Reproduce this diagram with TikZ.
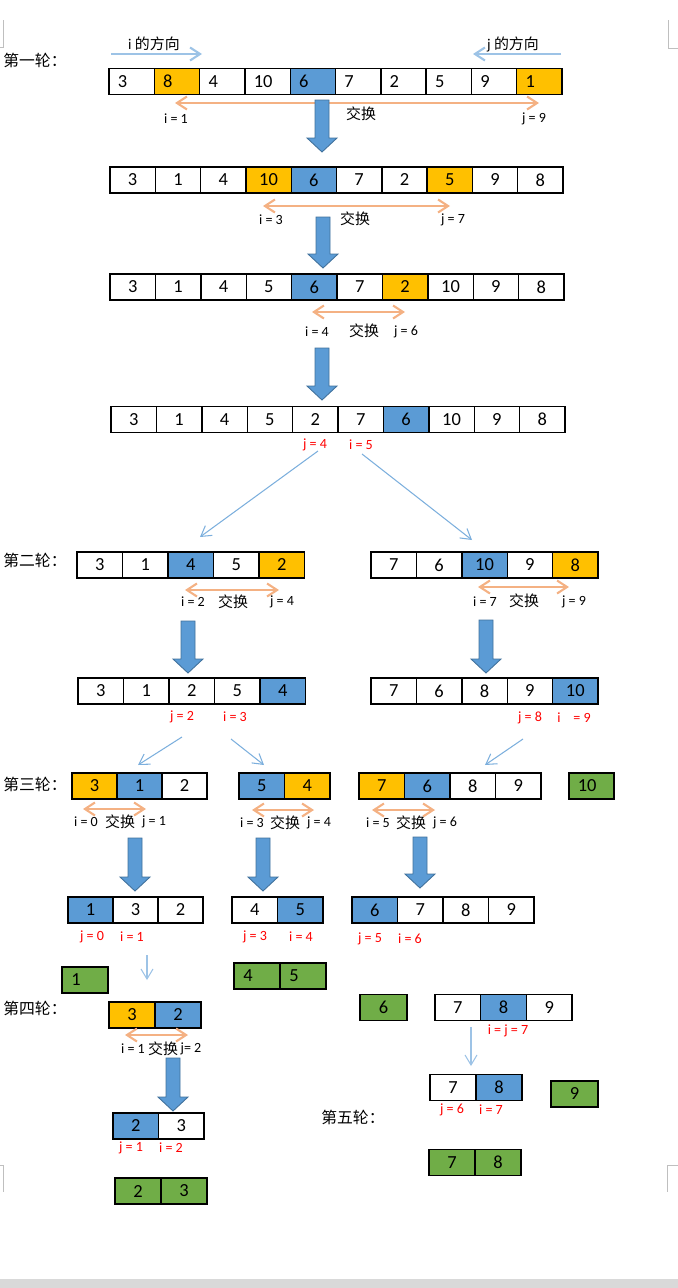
\documentclass[tikz,border=0pt]{standalone}
\usepackage{fontspec}
\setmainfont{Carlito}
\newfontfamily\cjk{Noto Sans CJK SC}
\usetikzlibrary{arrows.meta}
\definecolor{myorange}{HTML}{FFC000}
\definecolor{myblue}{HTML}{5B9BD5}
\definecolor{mygreen}{HTML}{70AD47}
\definecolor{myline}{HTML}{F4B183}
\definecolor{mysky}{HTML}{9DC3E6}
\definecolor{myedge}{HTML}{41719C}
\tikzset{
  cell/.style={draw, line width=0.8pt, minimum height=0.52cm, inner sep=0pt, font=\fontsize{10.5}{12}\selectfont},
  lcell/.style={text width=0.55cm, align=left, inner xsep=0.17cm},
  lbl/.style={inner sep=0pt, font=\fontsize{8}{9}\selectfont},
  rlbl/.style={lbl, text=red},
  zh/.style={inner sep=0pt, font=\fontsize{8.5}{10}\selectfont\cjk},
  stage/.style={zh, anchor=west, font=\fontsize{9}{10}\selectfont\cjk},
  xchg/.style={myline, line width=1.2pt, {Straight Barb[length=0.2cm,width=0.26cm]}-{Straight Barb[length=0.2cm,width=0.26cm]}},
  dir/.style={mysky, line width=1.2pt, -{Straight Barb[length=0.2cm,width=0.26cm]}},
  link/.style={myblue!80, line width=0.6pt, -{Straight Barb[length=0.2cm,width=0.24cm]}},
  flow/.style={fill=myblue, draw=myedge, line width=0.5pt}
}
\newcommand{\cells}[6][]{%
  \foreach \val/\col [count=\k] in {#6}
    \node[cell,fill=\col,minimum width=#4*0.02cm,#1] (#2\k) at ({#3+#4*(\k-0.5)},#5) {\val};}
\newcommand{\down}[3]{%
  \draw[flow] ({#1-7},#2) -- ({#1+7},#2) -- ({#1+7},{#3-14}) -- ({#1+15},{#3-14}) -- (#1,#3)
    -- ({#1-15},{#3-14}) -- ({#1-7},{#3-14}) -- cycle;}
\begin{document}
\begin{tikzpicture}[x=0.02cm,y=-0.02cm]
\useasboundingbox (0,0) rectangle (678,1288);
\fill[gray!30] (0,1279) rectangle (678,1288);
\draw[gray!50, line width=0.4pt] (3,20) -- (3,47) -- (0,47);
\draw[gray!50, line width=0.4pt] (668,20) -- (668,48) -- (678,48);
\draw[gray!50, line width=0.4pt] (0,1165) -- (3,1165) -- (3,1192);
\draw[gray!50, line width=0.4pt] (678,1165) -- (667,1165) -- (667,1192);

\node[stage] (t1) at (3,60) {第一轮：};
\node[stage] (t2) at (3,560) {第二轮：};
\node[stage] (t3) at (3,784) {第三轮：};
\node[stage] (t4) at (3,1008) {第四轮：};
\node[stage] (t5) at (321,1117) {第五轮：};

\node[zh] (idir) at (154,44) {{\rmfamily i} 的方向};
\node[zh] (jdir) at (513,44) {{\rmfamily j} 的方向};
\coordinate (di0) at (111,54); \coordinate (di1) at (202,54);
\coordinate (dj0) at (561,54); \coordinate (dj1) at (473,54);
\draw[dir] (di0) -- (di1);
\draw[dir] (dj0) -- (dj1);

\cells[lcell]{a}{109}{45.3}{81.5}{3/white,8/myorange,4/white,10/white,6/myblue,7/white,2/white,5/white,9/white,1/myorange}
\coordinate (s1a) at (175,103); \coordinate (s1b) at (539,103);
\draw[xchg] (s1a) -- (s1b);
\node[lbl] (ia) at (176,119) {i = 1};
\node[zh] (xa) at (361,114) {交换};
\node[lbl] (ja) at (534,119) {j = 9};
\down{322}{100}{152}

\cells{b}{110}{45.3}{180}{3/white,1/white,4/white,10/myorange,6/myblue,7/white,2/white,5/myorange,9/white,8/white}
\coordinate (s2a) at (263,206); \coordinate (s2b) at (450,206);
\draw[xchg] (s2a) -- (s2b);
\node[lbl] (ib) at (271,220) {i = 3};
\node[zh] (xb) at (355,219) {交换};
\node[lbl] (jb) at (453,220) {j = 7};
\down{323}{217}{268}

\cells{c}{110}{45.4}{287}{3/white,1/white,4/white,5/white,6/myblue,7/white,2/myorange,10/white,9/white,8/white}
\coordinate (s3a) at (312,312); \coordinate (s3b) at (405,312);
\draw[xchg] (s3a) -- (s3b);
\node[lbl] (ic) at (317,332) {i = 4};
\node[zh] (xc) at (364,331) {交换};
\node[lbl] (jc) at (406,332) {j = 6};
\down{322}{348}{400}

\cells{d}{111}{45.4}{419.5}{3/white,1/white,4/white,5/white,2/white,7/white,6/myblue,10/white,9/white,8/white}
\node[rlbl] (jd) at (315,445) {j = 4};
\node[rlbl] (id) at (361,445) {i = 5};
\coordinate (l1a) at (318,451); \coordinate (l1b) at (200,537);
\coordinate (l2a) at (362,454); \coordinate (l2b) at (472,540);
\draw[link] (l1a) -- (l1b);
\draw[link] (l2a) -- (l2b);

\cells{e}{77}{45.5}{565}{3/white,1/white,4/myblue,5/white,2/myorange}
\coordinate (s4a) at (185,590); \coordinate (s4b) at (279,590);
\draw[xchg] (s4a) -- (s4b);
\node[lbl] (ie) at (193,602) {i = 2};
\node[zh] (xe) at (233,602) {交换};
\node[lbl] (je) at (282,602) {j = 4};
\down{188}{621}{673}

\cells{f}{371}{45.4}{565}{7/white,6/white,10/myblue,9/white,8/myorange}
\coordinate (s5a) at (478,587); \coordinate (s5b) at (569,587);
\draw[xchg] (s5a) -- (s5b);
\node[lbl] (if) at (485,602) {i = 7};
\node[zh] (xf) at (524,601) {交换};
\node[lbl] (jf) at (574,602) {j = 9};
\down{486}{620}{673}

\cells{g}{78}{45.5}{691}{3/white,1/white,2/white,5/white,4/myblue}
\node[rlbl] (jg) at (182,717) {j = 2};
\node[rlbl] (ig) at (235,717) {i = 3};
\cells{h}{371}{45.4}{691}{7/white,6/white,8/white,9/white,10/myblue}
\node[rlbl] (jh) at (530,718) {j = 8};
\node[rlbl] (ih) at (574,718) {i\hspace{5.5pt} = 9};
\coordinate (l3a) at (182,737); \coordinate (l3b) at (138,765);
\coordinate (l4a) at (231,739); \coordinate (l4b) at (264,765);
\coordinate (l5a) at (523,739); \coordinate (l5b) at (485,765);
\draw[link] (l3a) -- (l3b);
\draw[link] (l4a) -- (l4b);
\draw[link] (l5a) -- (l5b);

\cells{k}{72}{45}{786}{3/myorange,1/myblue,2/white}
\coordinate (s6a) at (83,809); \coordinate (s6b) at (146,809);
\draw[xchg] (s6a) -- (s6b);
\node[lbl] (ik) at (86,822) {i = 0};
\node[zh] (xk) at (120,822) {交换};
\node[lbl] (jk) at (154,822) {j = 1};
\down{135}{838}{891}

\cells{l}{239}{45.5}{786}{5/myblue,4/myorange}
\coordinate (s7a) at (252,810); \coordinate (s7b) at (314,810);
\draw[xchg] (s7a) -- (s7b);
\node[lbl] (il) at (252,823) {i = 3};
\node[zh] (xl) at (285,823) {交换};
\node[lbl] (jl) at (319,823) {j = 4};
\down{263}{838}{891}

\cells{m}{359}{45.5}{786}{7/myorange,6/myblue,8/white,9/white}
\cells[lcell]{n}{569}{45}{786}{10/mygreen}
\coordinate (s8a) at (372,810); \coordinate (s8b) at (435,810);
\draw[xchg] (s8a) -- (s8b);
\node[lbl] (im) at (378,823) {i = 5};
\node[zh] (xm) at (411,823) {交换};
\node[lbl] (jm) at (445,823) {j = 6};
\down{420}{837}{888}

\cells{p}{68}{45}{910}{1/myblue,3/white,2/white}
\node[rlbl] (jp) at (92,937) {j = 0};
\node[rlbl] (ip) at (132,937) {i = 1};
\cells{q}{232}{45.5}{910}{4/white,5/myblue}
\node[rlbl] (jq) at (255,937) {j = 3};
\node[rlbl] (iq) at (301,937) {i = 4};
\cells{r}{352}{45.5}{910}{6/myblue,7/white,8/white,9/white}
\node[rlbl] (jr) at (370,939) {j = 5};
\node[rlbl] (ir) at (410,939) {i = 6};

\cells[lcell]{s}{62}{46}{980}{1/mygreen}
\cells[lcell]{t}{234}{46}{976}{4/mygreen,5/mygreen}
\coordinate (l6a) at (147,955); \coordinate (l6b) at (147,980);
\draw[link,mysky] (l6a) -- (l6b);

\cells{u}{109}{46}{1015}{3/myorange,2/myblue}
\coordinate (s9a) at (125,1035); \coordinate (s9b) at (188,1035);
\draw[xchg] (s9a) -- (s9b);
\node[lbl] (iu) at (133,1049) {i = 1};
\node[zh] (xu) at (163,1049) {交换};
\node[lbl] (ju) at (191,1049) {j= 2};
\down{173}{1058}{1111}
\cells{v}{113}{45.5}{1126}{2/myblue,3/white}
\node[rlbl] (jv) at (131,1148) {j = 1};
\node[rlbl] (iv) at (171,1148) {i = 2};
\cells{w}{115}{46}{1191}{2/mygreen,3/mygreen}

\cells{g6}{360}{47}{1007.5}{6/mygreen}
\cells{y}{435}{45.7}{1007.5}{7/white,8/myblue,9/white}
\node[rlbl] (iy) at (508,1031) {i = j = 7};
\coordinate (l7a) at (471,1027); \coordinate (l7b) at (471,1066);
\draw[link,mysky] (l7a) -- (l7b);
\cells{z}{430}{46}{1087.5}{7/white,8/myblue}
\node[rlbl] (jz) at (452,1110) {j = 6};
\node[rlbl] (iz) at (491,1110) {i = 7};
\cells{g9}{551}{47}{1094}{9/mygreen}
\cells{g78}{429}{46}{1162.5}{7/mygreen,8/mygreen}
\end{tikzpicture}
\end{document}
